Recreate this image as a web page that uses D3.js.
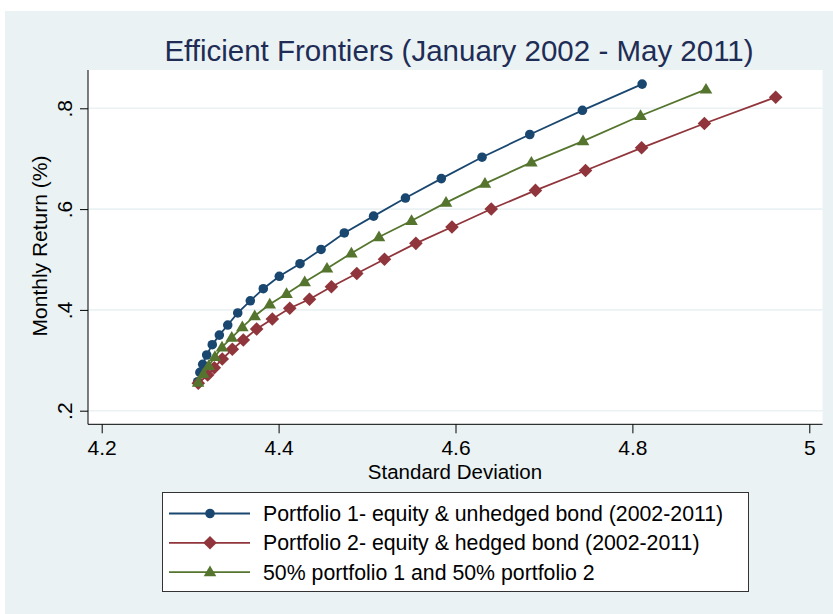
<!DOCTYPE html>
<html><head><meta charset="utf-8">
<script src="https://cdn.jsdelivr.net/npm/d3@7"></script>
<style>body{margin:0;background:#fff}svg{display:block;font-family:"Liberation Sans",Arial,sans-serif}</style>
</head><body><svg id="c" width="833" height="614"></svg>
<script>
// ---- data ----
const sdP1  = [4.811,4.7435,4.684,4.630,4.584,4.5434,4.5074,4.4743,4.448,4.4242,4.4008,4.3827,4.368,4.3538,4.3425,4.333,4.325,4.3187,4.3142,4.311,4.3085];
const retP1 = [0.848,0.796,0.748,0.703,0.6605,0.622,0.586,0.5526,0.520,0.4917,0.4667,0.442,0.418,0.394,0.370,0.350,0.331,0.3105,0.292,0.276,0.2575];
const sdP2  = [4.962,4.8814,4.8104,4.747,4.6904,4.6404,4.596,4.5552,4.5197,4.4884,4.4597,4.4349,4.4126,4.3929,4.3752,4.3601,4.3477,4.3363,4.3273,4.3198,4.3092];
const retP2 = [0.822,0.7698,0.7216,0.6766,0.6371,0.6002,0.5645,0.532,0.5004,0.4722,0.446,0.4212,0.4032,0.382,0.3621,0.3403,0.3218,0.3026,0.2853,0.2708,0.2544];
const sdMix  = [4.8832,4.8092,4.7442,4.6858,4.6333,4.5893,4.5503,4.5135,4.4823,4.4547,4.4295,4.409,4.390,4.373,4.359,4.347,4.336,4.328,4.321,4.315,4.309];
const retMix = [0.8375,0.7853,0.735,0.6927,0.6506,0.6129,0.5768,0.5446,0.5125,0.4823,0.4554,0.432,0.411,0.388,0.366,0.345,0.326,0.307,0.289,0.273,0.256];
const seriesNames = ["Portfolio 1- equity & unhedged bond (2002-2011)","Portfolio 2- equity & hedged bond (2002-2011)","50% portfolio 1 and 50% portfolio 2"];
const xTicks = [4.2,4.4,4.6,4.8,5];
const yTicks = [0.2,0.4,0.6,0.8];
const title = "Efficient Frontiers (January 2002 - May 2011)";
const xTitle = "Standard Deviation";
const yTitle = "Monthly Return (%)";

const colors = ["#1a476f","#90353b","#55752f"];
const shapes = ["circle","diamond","triangle"];
const series = [
  {name:seriesNames[0], sd:sdP1, ret:retP1, color:colors[0], shape:shapes[0]},
  {name:seriesNames[1], sd:sdP2, ret:retP2, color:colors[1], shape:shapes[1]},
  {name:seriesNames[2], sd:sdMix, ret:retMix, color:colors[2], shape:shapes[2]}
];

const svg = d3.select("#c");
const bg = "#eaf2f3";
svg.append("rect").attr("x",5).attr("y",11).attr("width",828).attr("height",603).attr("fill",bg);

const plot = {l:88, t:70, r:822.5, b:424.3};
svg.append("rect").attr("x",plot.l).attr("y",plot.t).attr("width",plot.r-plot.l).attr("height",plot.b-plot.t).attr("fill","#fff");

const x = d3.scaleLinear().domain([4.2,5]).range([101.7,809.3]);
const y = d3.scaleLinear().domain([0.2,0.8]).range([410.7,108.3]);

// gridlines
svg.append("g").selectAll("line").data(yTicks).join("line")
  .attr("x1",plot.l).attr("x2",plot.r).attr("y1",d=>y(d)).attr("y2",d=>y(d))
  .attr("stroke",bg).attr("stroke-width",1.6);

// axes
const fmtY = d=>d3.format(".1f")(d).replace(/^0/,"");
const xAxis = d3.axisBottom(x).tickValues(xTicks).tickSize(9).tickPadding(4).tickFormat(d=>String(d));
const gx = svg.append("g").attr("transform",`translate(0,${plot.b})`).call(xAxis);
gx.select(".domain").attr("d",`M${plot.l},0H${plot.r}`).attr("stroke","#000");
gx.selectAll(".tick line").attr("stroke","#000");
gx.selectAll(".tick text").attr("font-size",21).attr("fill","#000").attr("font-family","Liberation Sans, Arial, sans-serif").attr("dy",null).attr("y",31);

const yAxis = d3.axisLeft(y).tickValues(yTicks).tickSize(8).tickFormat(fmtY);
const gy = svg.append("g").attr("transform",`translate(${plot.l},0)`).call(yAxis);
gy.select(".domain").attr("d",`M0,${plot.t}V${plot.b}`).attr("stroke","#000");
gy.selectAll(".tick line").attr("stroke","#000");
gy.selectAll(".tick text").attr("font-size",21).attr("fill","#000").attr("font-family","Liberation Sans, Arial, sans-serif")
  .attr("x",null).attr("dy",null).attr("text-anchor","middle")
  .attr("transform","translate(-16,0) rotate(-90)");

// titles
svg.append("text").attr("x",459).attr("y",61).attr("text-anchor","middle").attr("font-size",29.5).attr("fill","#1e2c56").text(title);
svg.append("text").attr("x",455).attr("y",478.5).attr("text-anchor","middle").attr("font-size",20.5).attr("fill","#000").text(xTitle);
svg.append("text").attr("transform","translate(47,246) rotate(-90)").attr("text-anchor","middle").attr("font-size",21).attr("fill","#000").text(yTitle);

function markerPath(shape){
  if(shape==="circle") return d3.symbol(d3.symbolCircle,72)();
  if(shape==="diamond") return "M0,-6.8L6.8,0L0,6.8L-6.8,0Z";
  return "M0,-6.5L6.3,4.2L-6.3,4.2Z";
}

const line = d3.line().x(d=>x(d[0])).y(d=>y(d[1]));
series.forEach(s=>{
  const pts = s.sd.map((v,i)=>[v,s.ret[i]]);
  const g = svg.append("g");
  g.append("path").attr("d",line(pts)).attr("fill","none").attr("stroke",s.color).attr("stroke-width",1.8);
  g.selectAll("path.m").data(pts).join("path").attr("class","m")
    .attr("d",markerPath(s.shape)).attr("transform",d=>`translate(${x(d[0])},${y(d[1])})`).attr("fill",s.color);
});

// legend
const lg = svg.append("g");
lg.append("rect").attr("x",162.5).attr("y",492.5).attr("width",586).attr("height",99).attr("fill","#fff").attr("stroke","#333").attr("stroke-width",1);
series.forEach((s,i)=>{
  const cy = 513.5 + i*29.3;
  lg.append("line").attr("x1",169).attr("x2",250).attr("y1",cy).attr("y2",cy).attr("stroke",s.color).attr("stroke-width",1.8);
  lg.append("path").attr("d",markerPath(s.shape)).attr("transform",`translate(210,${cy})`).attr("fill",s.color);
  lg.append("text").attr("x",263).attr("y",cy+7.5).attr("font-size",21.3).attr("fill","#000").text(s.name);
});
</script></body></html>
